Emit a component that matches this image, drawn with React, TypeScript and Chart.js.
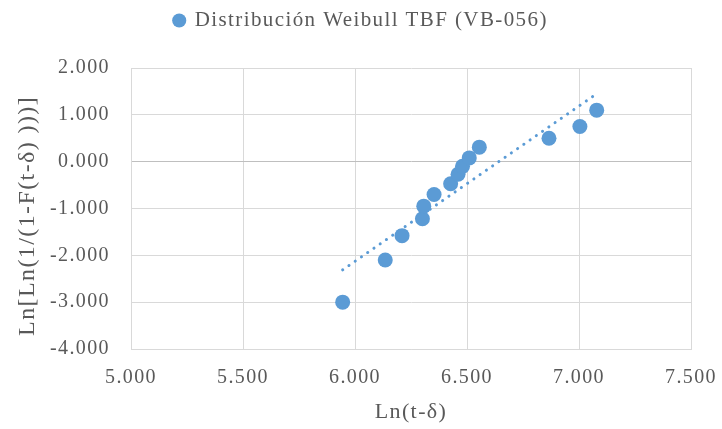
import React, { useEffect, useRef } from "react";
import { Chart, registerables } from "chart.js";

Chart.register(...registerables);

// Data
const lnT: number[] = [5.945, 6.135, 6.21, 6.301, 6.307, 6.353, 6.427, 6.46, 6.48, 6.51, 6.555, 6.866, 7.004, 7.079];
const lnLnF: number[] = [-3.0, -2.1, -1.58, -1.22, -0.95, -0.7, -0.47, -0.27, -0.1, 0.08, 0.31, 0.5, 0.75, 1.1];

// Linear trendline end points (as drawn in the reference)
const trendX: number[] = [5.945, 7.079];
const trendY: number[] = [-2.31, 1.45];

const seriesName = "Distribución Weibull TBF (VB-056)";
const xTitle = "Ln(t-δ)";
const yTitle = "Ln[Ln(1/(1-F(t-δ) )))]";

const xMin = 5;
const xMax = 7.5;
const xStep = 0.5;
const yMin = -4;
const yMax = 2;
const yStep = 1;

const BLUE = "#5B9BD5";
const TEXT = "#595959";
const GRID = "#D9D9D9";
const ZERO = "#BFBFBF";
const FONT = '"Liberation Serif", "Times New Roman", serif';

const spacingPlugin = {
  id: "spacing",
  beforeLayout(chart: any) {
    chart.ctx.letterSpacing = "1.4px";
  },
  beforeDraw(chart: any) {
    chart.ctx.letterSpacing = "1.4px";
  },
};

const legendHeightPlugin = {
  id: "legendHeight",
  beforeInit(chart: any) {
    const legend = chart.legend;
    if (!legend) return;
    const orig = legend.fit.bind(legend);
    legend.fit = function () {
      orig();
      this.height = 68;
    };
  },
};

export default function App() {
  const ref = useRef<HTMLCanvasElement | null>(null);

  useEffect(() => {
    if (!ref.current) return;
    const points = lnT.map((x, i) => ({ x, y: lnLnF[i] }));
    const trend = trendX.map((x, i) => ({ x, y: trendY[i] }));
    const chart = new Chart(ref.current, {
      type: "scatter",
      data: {
        datasets: [
          {
            label: seriesName,
            data: points,
            backgroundColor: BLUE,
            borderColor: BLUE,
            borderWidth: 0,
            pointRadius: 7.5,
            pointHoverRadius: 7.5,
            order: 1,
          },
          {
            label: "trend",
            data: trend,
            showLine: true,
            borderColor: BLUE,
            backgroundColor: BLUE,
            borderWidth: 3,
            borderDash: [0.1, 7.5],
            borderCapStyle: "round",
            pointRadius: 0,
            order: 2,
          } as any,
        ],
      },
      options: {
        responsive: false,
        animation: false,
        devicePixelRatio: 1,
        layout: { padding: 0 },
        plugins: {
          legend: {
            position: "top",
            labels: {
              usePointStyle: true,
              pointStyle: "circle",
              boxWidth: 10,
              boxHeight: 10,
              padding: 10,
              color: TEXT,
              font: { family: FONT, size: 21 },
              filter: (item: any) => item.datasetIndex === 0,
            },
          },
          tooltip: { enabled: false },
        },
        scales: {
          x: {
            type: "linear",
            min: xMin,
            max: xMax,
            afterFit: (s: any) => {
              s.height = 80;
              s.paddingLeft = 0;
              s.paddingRight = 31;
            },
            border: { color: GRID, width: 1 },
            grid: { color: GRID, lineWidth: 1, drawTicks: false },
            ticks: {
              stepSize: xStep,
              color: TEXT,
              padding: 17,
              maxRotation: 0,
              font: { family: FONT, size: 20 },
              callback: (v: any) => Number(v).toFixed(3),
            },
            title: {
              display: true,
              text: xTitle,
              color: TEXT,
              font: { family: FONT, size: 22 },
              padding: { top: 0, bottom: 4 },
            },
          },
          y: {
            type: "linear",
            min: yMin,
            max: yMax,
            afterFit: (s: any) => {
              s.width = 131;
            },
            border: { color: GRID, width: 1 },
            grid: {
              color: (c: any) => (c.tick && c.tick.value === 0 ? ZERO : GRID),
              lineWidth: 1,
              drawTicks: false,
            },
            ticks: {
              stepSize: yStep,
              color: TEXT,
              padding: 21,
              font: { family: FONT, size: 20 },
              callback: (v: any) => Number(v).toFixed(3),
            },
            title: {
              display: true,
              text: yTitle + "  ",
              color: TEXT,
              font: { family: FONT, size: 24 },
              padding: { top: 13, bottom: 0 },
            },
          },
        },
      },
      plugins: [spacingPlugin, legendHeightPlugin],
    });
    return () => chart.destroy();
  }, []);

  return (
    <div style={{ position: "fixed", left: 0, top: 0, width: 722, height: 429, background: "#fff" }}>
      <canvas ref={ref} width={722} height={429} style={{ display: "block" }} />
    </div>
  );
}
